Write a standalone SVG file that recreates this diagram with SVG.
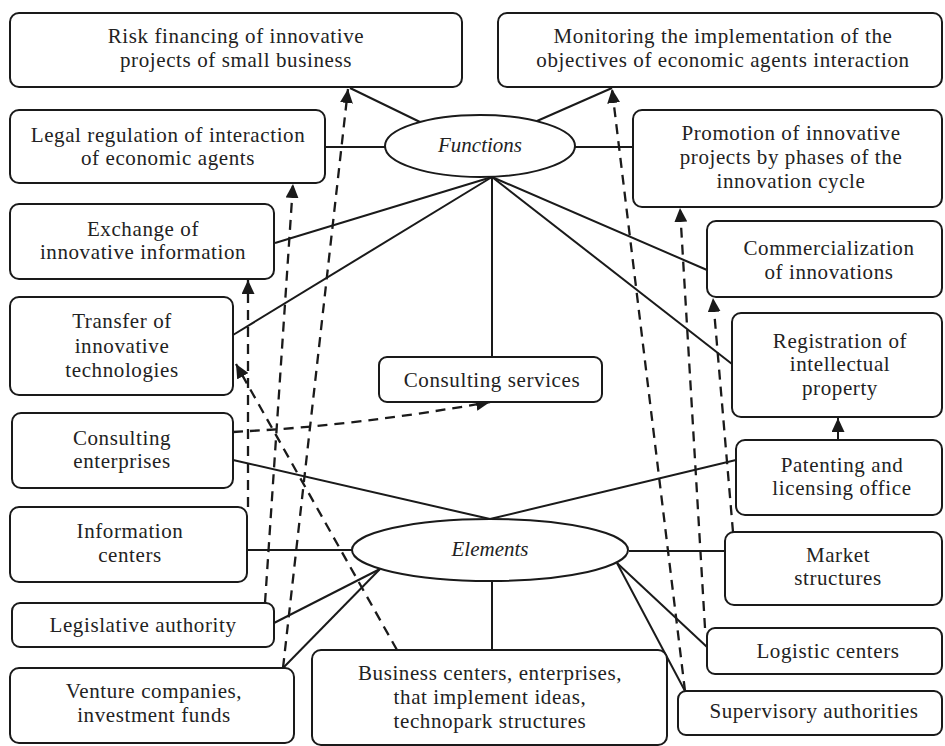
<svg xmlns="http://www.w3.org/2000/svg" width="945" height="746" viewBox="0 0 945 746">
<defs>
<style>
.box{fill:#fff;stroke:#1a1a1a;stroke-width:2}
.ell{fill:#fff;stroke:#1a1a1a;stroke-width:2}
.t{font-family:"Liberation Serif","Times New Roman",serif;font-size:21px;letter-spacing:0.6px;fill:#222;text-anchor:middle}
.ti{font-family:"Liberation Serif","Times New Roman",serif;font-size:21px;font-style:italic;fill:#222;text-anchor:middle}
.ln{stroke:#1a1a1a;stroke-width:2;fill:none}
.dl{stroke:#1a1a1a;stroke-width:2.3;fill:none;stroke-dasharray:10 7}
</style>
<marker id="ah" markerUnits="userSpaceOnUse" markerWidth="15" markerHeight="13" refX="14" refY="6.5" orient="auto">
<path d="M0,0 L14,6.5 L0,13 z" fill="#1a1a1a"/>
</marker>
</defs>
<rect width="945" height="746" fill="#fff"/>

<g id="connectors">
<line class="ln" x1="420" y1="122" x2="350" y2="88"/>
<line class="ln" x1="537" y1="121" x2="612" y2="88"/>
<line class="ln" x1="325" y1="147" x2="385" y2="147"/>
<line class="ln" x1="574" y1="147" x2="633" y2="147"/>
<line class="ln" x1="492" y1="177" x2="275" y2="243"/>
<line class="ln" x1="492" y1="177" x2="233" y2="335"/>
<line class="ln" x1="492" y1="177" x2="492" y2="357"/>
<line class="ln" x1="492" y1="177" x2="707" y2="270"/>
<line class="ln" x1="492" y1="177" x2="732" y2="364"/>
<line class="ln" x1="233" y1="460" x2="490" y2="519"/>
<line class="ln" x1="736" y1="460" x2="490" y2="519"/>
<line class="ln" x1="247" y1="550" x2="352" y2="550"/>
<line class="ln" x1="629" y1="551" x2="725" y2="551"/>
<line class="ln" x1="274" y1="623" x2="380" y2="569"/>
<line class="ln" x1="283" y1="668" x2="380" y2="569"/>
<line class="ln" x1="492" y1="581" x2="492" y2="650"/>
<line class="ln" x1="617" y1="563" x2="707" y2="647"/>
<line class="ln" x1="617" y1="563" x2="685" y2="691"/>
<line class="ln" x1="838" y1="440" x2="838" y2="418" marker-end="url(#ah)"/>
<line class="dl" x1="283" y1="668" x2="348" y2="89" marker-end="url(#ah)"/>
<line class="dl" x1="265" y1="603" x2="293" y2="184" marker-end="url(#ah)"/>
<line class="dl" x1="248" y1="507" x2="248" y2="280" marker-end="url(#ah)"/>
<path class="dl" d="M233,432 L250,431 Q360,425 490,402" marker-end="url(#ah)"/>
<line class="dl" x1="397" y1="650" x2="236" y2="364" marker-end="url(#ah)"/>
<line class="dl" x1="685" y1="691" x2="612" y2="89" marker-end="url(#ah)"/>
<line class="dl" x1="705" y1="628" x2="680" y2="208" marker-end="url(#ah)"/>
<line class="dl" x1="733" y1="532" x2="713" y2="298" marker-end="url(#ah)"/>
</g>

<g id="functions">
<ellipse class="ell" cx="480" cy="146" rx="95" ry="31"/>
<text class="ti" x="480" y="152">Functions</text>
</g>
<g id="elements">
<ellipse class="ell" cx="490" cy="550" rx="138" ry="31"/>
<text class="ti" x="490" y="556">Elements</text>
</g>

<g id="risk">
<rect class="box" x="10" y="13" width="452" height="74" rx="9"/>
<text class="t" x="236" y="43">Risk financing of innovative</text>
<text class="t" x="236" y="67">projects of small business</text>
</g>
<g id="monitoring">
<rect class="box" x="498" y="13" width="444" height="74" rx="9"/>
<text class="t" x="723" y="43">Monitoring the implementation of the</text>
<text class="t" x="723" y="67">objectives of economic agents interaction</text>
</g>
<g id="legal">
<rect class="box" x="10" y="110" width="315" height="73" rx="9"/>
<text class="t" x="168" y="142">Legal regulation of interaction</text>
<text class="t" x="168" y="165">of economic agents</text>
</g>
<g id="promotion">
<rect class="box" x="633" y="110" width="309" height="97" rx="9"/>
<text class="t" x="791" y="140">Promotion of innovative</text>
<text class="t" x="791" y="164">projects by phases of the</text>
<text class="t" x="791" y="188">innovation cycle</text>
</g>
<g id="exchange">
<rect class="box" x="10" y="204" width="264" height="75" rx="9"/>
<text class="t" x="143" y="236">Exchange of</text>
<text class="t" x="143" y="259">innovative information</text>
</g>
<g id="commercialization">
<rect class="box" x="707" y="221" width="235" height="76" rx="9"/>
<text class="t" x="829" y="255">Commercialization</text>
<text class="t" x="829" y="279">of innovations</text>
</g>
<g id="transfer">
<rect class="box" x="10" y="297" width="223" height="98" rx="9"/>
<text class="t" x="122" y="328">Transfer of</text>
<text class="t" x="122" y="353">innovative</text>
<text class="t" x="122" y="377">technologies</text>
</g>
<g id="registration">
<rect class="box" x="732" y="313" width="210" height="104" rx="9"/>
<text class="t" x="840" y="348">Registration of</text>
<text class="t" x="840" y="371">intellectual</text>
<text class="t" x="840" y="395">property</text>
</g>
<g id="consulting-services">
<rect class="box" x="379" y="357" width="223" height="45" rx="8"/>
<text class="t" x="492" y="387">Consulting services</text>
</g>
<g id="consulting-enterprises">
<rect class="box" x="12" y="413" width="221" height="75" rx="9"/>
<text class="t" x="122" y="445">Consulting</text>
<text class="t" x="122" y="468">enterprises</text>
</g>
<g id="patenting">
<rect class="box" x="736" y="440" width="206" height="75" rx="9"/>
<text class="t" x="842" y="472">Patenting and</text>
<text class="t" x="842" y="495">licensing office</text>
</g>
<g id="information-centers">
<rect class="box" x="10" y="507" width="237" height="75" rx="9"/>
<text class="t" x="130" y="538">Information</text>
<text class="t" x="130" y="562">centers</text>
</g>
<g id="market">
<rect class="box" x="725" y="532" width="217" height="73" rx="9"/>
<text class="t" x="838" y="562">Market</text>
<text class="t" x="838" y="585">structures</text>
</g>
<g id="legislative">
<rect class="box" x="12" y="603" width="262" height="44" rx="8"/>
<text class="t" x="143" y="632">Legislative authority</text>
</g>
<g id="logistic">
<rect class="box" x="707" y="628" width="235" height="46" rx="8"/>
<text class="t" x="828" y="658">Logistic centers</text>
</g>
<g id="venture">
<rect class="box" x="10" y="668" width="284" height="75" rx="9"/>
<text class="t" x="154" y="698">Venture companies,</text>
<text class="t" x="154" y="722">investment funds</text>
</g>
<g id="business">
<rect class="box" x="312" y="650" width="355" height="95" rx="9"/>
<text class="t" x="490" y="680">Business centers, enterprises,</text>
<text class="t" x="490" y="704">that implement ideas,</text>
<text class="t" x="490" y="728">technopark structures</text>
</g>
<g id="supervisory">
<rect class="box" x="678" y="691" width="264" height="44" rx="8"/>
<text class="t" x="814" y="718">Supervisory authorities</text>
</g>
</svg>
